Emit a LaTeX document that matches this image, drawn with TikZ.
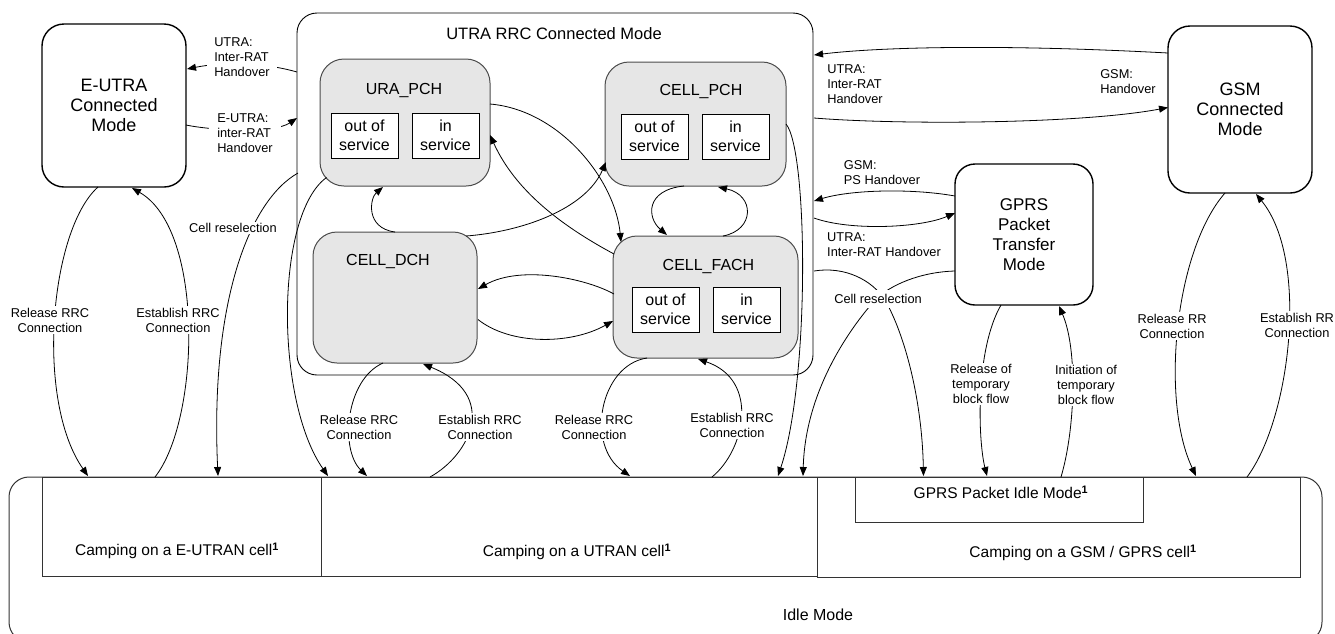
\documentclass[tikz,border=0pt]{standalone}
\usepackage{fontspec}
\setmainfont{Liberation Sans}
\usetikzlibrary{arrows.meta,calc}
\definecolor{stategray}{RGB}{230,230,230}
\begin{document}
\begin{tikzpicture}[x=1pt,y=-1pt,
  every node/.style={outer sep=0pt},
  bigbox/.style={draw, line width=1.4pt, rounded corners=22pt, align=center, inner sep=0pt, font=\fontsize{18}{20}\selectfont},
  outerbox/.style={draw, line width=0.9pt, rounded corners=20pt, inner sep=0pt},
  statebox/.style={draw=black!70, fill=stategray, line width=1pt, rounded corners=24pt, inner sep=0pt},
  statetitle/.style={font=\fontsize{16}{19}\selectfont, inner sep=0pt},
  svcbox/.style={draw, fill=white, line width=0.9pt, align=center, inner sep=0pt, minimum width=67pt, minimum height=45pt, font=\fontsize{16}{19.5}\selectfont},
  cellbox/.style={draw=black!80, line width=1pt, inner sep=0pt},
  idlebox/.style={draw=black!80, line width=1pt, rounded corners=20pt, inner sep=0pt},
  celltext/.style={font=\fontsize{15.5}{18}\selectfont, inner sep=0pt},
  lbl/.style={font=\fontsize{12.8}{15}\selectfont, align=center, inner sep=1.5pt},
  wlbl/.style={lbl, fill=white},
  conn/.style={-{Triangle[length=9pt,width=7pt]}, line width=0.8pt}
]
\useasboundingbox (0,0) rectangle (1335,633);

% Idle mode area
\node[idlebox, minimum width=1313pt, minimum height=165pt] (idle) at (665.5,559.5) {};
\node[cellbox, minimum width=279pt, minimum height=99pt] (eutran) at (181.5,526.5) {};
\node[cellbox, minimum width=496pt, minimum height=99pt] (utran) at (569,526.5) {};
\node[cellbox, minimum width=483pt, minimum height=100pt] (gsmcell) at (1058.5,527) {};
\node[cellbox, minimum width=288pt, minimum height=45pt] (gprsidle) at (999,499.5) {};
\node[celltext] (teutran) at (177,551) {Camping on a E-UTRAN cell\textsuperscript{\textbf{1}}};
\node[celltext] (tutran) at (577,552) {Camping on a UTRAN cell\textsuperscript{\textbf{1}}};
\node[celltext] (tgsmcell) at (1083,553) {Camping on a GSM / GPRS cell\textsuperscript{\textbf{1}}};
\node[celltext] (tgprsidle) at (1001,492) {GPRS Packet Idle Mode\textsuperscript{\textbf{1}}};
\node[celltext, font=\fontsize{16}{18}\selectfont] (tidle) at (818,615) {Idle Mode};

% Connected mode boxes
\node[bigbox, minimum width=144pt, minimum height=163pt] (eutra) at (114,105.5) {E-UTRA\\Connected\\Mode};
\node[bigbox, minimum width=144pt, minimum height=167pt] (gsm) at (1240,109.5) {GSM\\Connected\\Mode};
\node[bigbox, rounded corners=20pt, minimum width=138pt, minimum height=141pt, font=\fontsize{17}{20}\selectfont] (gprs) at (1024,234.5) {GPRS\\Packet\\Transfer\\Mode};

% UTRA RRC connected mode
\node[outerbox, minimum width=516pt, minimum height=362pt] (utra) at (555,194) {};
\node[font=\fontsize{16.5}{19}\selectfont, inner sep=0pt] (utratitle) at (554,34) {UTRA RRC Connected Mode};

\node[statebox, minimum width=170pt, minimum height=127pt] (urapch) at (405,122.5) {};
\node[statetitle] (turapch) at (404,90) {URA\_PCH};
\node[svcbox] (oos1) at (364.5,135.5) {out of\\service};
\node[svcbox] (is1) at (445.5,135.5) {in\\service};

\node[statebox, minimum width=181pt, minimum height=124pt] (cellpch) at (695.5,124) {};
\node[statetitle] (tcellpch) at (701,91) {CELL\_PCH};
\node[svcbox] (oos2) at (654.5,136.5) {out of\\service};
\node[svcbox] (is2) at (735.5,136.5) {in\\service};

\node[statebox, minimum width=164pt, minimum height=131pt] (celldch) at (395,297.5) {};
\node[statetitle] (tcelldch) at (388,261) {CELL\_DCH};

\node[statebox, minimum width=185pt, minimum height=122pt] (cellfach) at (705.5,297) {};
\node[statetitle] (tcellfach) at (708.5,266) {CELL\_FACH};
\node[svcbox] (oos3) at (665.5,309.5) {out of\\service};
\node[svcbox] (is3) at (746.5,309.5) {in\\service};

% Connectors: left side
\draw[conn] ($(utra.north west)+(0,59)$) .. controls (262,62) and (222,62) .. ($(eutra.north east)+(1,45)$);
\draw[conn] ($(eutra.east)+(0,19.5)$) .. controls (215,131) and (275,133) .. ($(utra.west)+(0,-76)$);
\draw[conn] ($(eutra.south)+(-16,0)$) .. controls (50,230) and (35,400) .. ($(eutran.north west)+(46,-1)$);
\draw[conn] ($(eutran.north west)+(113,0)$) .. controls (200,420) and (205,230) .. ($(eutra.south)+(18,1)$);
\draw[conn] ($(utra.west)+(1,-21)$) .. controls (250,200) and (210,300) .. ($(eutran.north west)+(176,-1)$);
\draw[conn] ($(urapch.south west)+(6.5,-8.5)$) .. controls (275,215) and (275,400) .. ($(utran.north west)+(7,-1)$);

% Connectors: inside UTRA
\draw[conn] (celldch.north) .. controls (365,228) and (370,198) .. ($(urapch.south)+(-22,1)$);
\draw[conn] ($(celldch.north east)+(-11,4)$) .. controls (520,232) and (585,210) .. ($(cellpch.south west)+(1,-24)$);
\draw[conn] ($(urapch.east)+(0,-18.5)$) .. controls (560,110) and (615,180) .. ($(cellfach.north west)+(8,6)$);
\draw[conn] ($(cellfach.west)+(1,-43)$) .. controls (560,225) and (515,190) .. ($(urapch.east)+(0,12.5)$);
\draw[conn] ($(cellfach.north)+(17.5,0)$) .. controls (755,230) and (755,195) .. ($(cellpch.south)+(22.5,1)$);
\draw[conn] ($(cellpch.south)+(-11.5,0)$) .. controls (645,190) and (647,218) .. ($(cellfach.north)+(-38.5,-1)$);
\draw[conn] ($(cellfach.west)+(1,-3)$) .. controls (585,278) and (520,265) .. ($(celldch.east)+(1,-8.5)$);
\draw[conn] ($(celldch.east)+(1,22)$) .. controls (510,345) and (570,345) .. ($(cellfach.west)+(0,24)$);
\draw[conn] (cellpch.east) .. controls (808,150) and (810,380) .. ($(utran.north east)+(-39,-1)$);
\draw[conn] ($(celldch.south)+(-12,0)$) .. controls (345,380) and (340,450) .. ($(utran.north west)+(46,-1)$);
\draw[conn] ($(utran.north west)+(109,0)$) .. controls (470,455) and (500,395) .. ($(celldch.south)+(28,1)$);
\draw[conn] ($(cellfach.south)+(-58.5,0)$) .. controls (600,365) and (585,445) .. ($(utran.north west)+(309,-1)$);
\draw[conn] ($(utran.north west)+(391,0)$) .. controls (745,450) and (760,380) .. ($(cellfach.south)+(-7.5,1)$);

% Connectors: right side
\draw[conn] ($(gsm.north west)+(0,27)$) .. controls (1000,44) and (880,47) .. ($(utra.north east)+(1,42)$);
\draw[conn] ($(utra.north east)+(1,105)$) .. controls (900,125) and (1080,124) .. ($(gsm.west)+(0,-2)$);
\draw[conn] ($(gprs.north west)+(0,32)$) .. controls (910,188) and (850,190) .. ($(utra.east)+(1,7)$);
\draw[conn] ($(utra.east)+(1,24)$) .. controls (850,231) and (920,228) .. ($(gprs.west)+(0,-21.5)$);
\draw[conn] ($(utra.east)+(1,77)$) .. controls (845,266) and (872,280) .. (885,300) .. controls (905,335) and (922,400) .. ($(gsmcell.north west)+(106.5,-1)$);
\draw[conn] ($(gprs.west)+(0,36.5)$) .. controls (920,272) and (890,285) .. (875,300) .. controls (840,340) and (805,400) .. ($(utran.north east)+(-14,-1)$);
\draw[conn] ($(gprs.south)+(-23,0)$) .. controls (975,350) and (978,440) .. ($(gprsidle.north)+(-12,-1)$);
\draw[conn] ($(gprsidle.north)+(62,0)$) .. controls (1075,430) and (1078,350) .. ($(gprs.south)+(35,1)$);
\draw[conn] ($(gsm.south)+(-15,0)$) .. controls (1175,250) and (1160,400) .. ($(gsmcell.north west)+(379,-1)$);
\draw[conn] ($(gsmcell.north west)+(430,0)$) .. controls (1290,420) and (1310,260) .. ($(gsm.south)+(16,1)$);

% Labels
\node[wlbl, align=left, inner xsep=7pt] (l1) at (242,57) {UTRA:\\Inter-RAT\\Handover};
\node[wlbl, align=left, inner xsep=8pt] (l2) at (245,133) {E-UTRA:\\inter-RAT\\Handover};
\node[wlbl] (l3) at (50,320) {Release RRC\\Connection};
\node[wlbl] (l4) at (178,320) {Establish RRC\\Connection};
\node[wlbl] (l5) at (233,228) {Cell reselection};
\node[wlbl] (l6) at (359,427) {Release RRC\\Connection};
\node[wlbl] (l7) at (480,427) {Establish RRC\\Connection};
\node[wlbl] (l8) at (594,427) {Release RRC\\Connection};
\node[wlbl] (l9) at (732,425) {Establish RRC\\Connection};
\node[wlbl, inner ysep=4pt] (l10) at (878,299) {Cell reselection};
\node[wlbl] (l11) at (981,384) {Release of\\temporary\\block flow};
\node[wlbl] (l12) at (1086,385) {Initiation of\\temporary\\block flow};
\node[wlbl] (l13) at (1172,326) {Release RR\\Connection};
\node[wlbl] (l14) at (1297,325) {Establish RR\\Connection};
\node[lbl, align=left] (l15) at (855,84) {UTRA:\\Inter-RAT\\Handover};
\node[lbl, align=left] (l16) at (1128,81.5) {GSM:\\Handover};
\node[lbl, align=left] (l17) at (882,173) {GSM:\\PS Handover};
\node[lbl, align=left] (l18) at (884,244.5) {UTRA:\\Inter-RAT Handover};
\end{tikzpicture}
\end{document}
